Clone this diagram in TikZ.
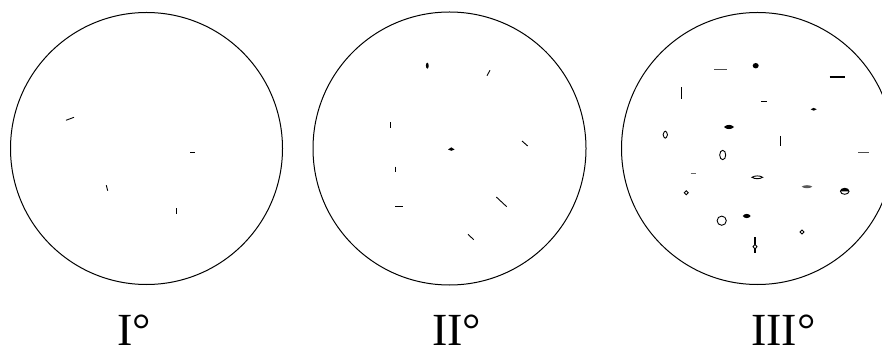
\documentclass[tikz,border=0pt]{standalone}
\usepackage{fontspec}
\setmainfont{Liberation Serif}
\begin{document}
\begin{tikzpicture}[x=1pt,y=-1pt,
  rim/.style={line width=1pt},
  tick/.style={line width=0.9pt},
  lbl/.style={font=\fontsize{46}{46}\selectfont, inner sep=0pt, text depth=0pt, anchor=base west},
  lensp/.pic={\path[pic actions] (-1,0) .. controls (-0.5,-1.33) and (0.5,-1.33) .. (1,0) .. controls (0.5,1.33) and (-0.5,1.33) .. (-1,0) -- cycle;},
  diap/.pic={\path[pic actions] (-1,0) -- (0,-1) -- (1,0) -- (0,1) -- cycle;}]
\useasboundingbox (0,0) rectangle (882,347);
\clip (0,0) rectangle (882,347);
% circles
\draw[rim] (146.5,148.5) circle[radius=136pt];
\draw[rim] (449.5,148.5) circle[radius=136.5pt];
\draw[rim] (757.5,148.5) circle[radius=136pt];
% circle I
\draw[tick] (66,120.3) -- (74,117.3);
\draw[tick] (190,152.7) -- (195.3,152.7);
\draw[tick] (106.3,185.3) -- (107.7,190.7);
\draw[tick] (176,208.3) -- (176,213.7);
% circle II
\fill (427.3,65.7) ellipse[x radius=1.4pt, y radius=3pt];
\draw[tick] (487,75.7) -- (490,70.3);
\draw[tick] (390.7,122.3) -- (390.7,127.7);
\fill (448,149.5) -- (451.3,147.3) -- (454.6,149.5) -- (451.3,150.8) -- cycle;
\draw[tick] (522,141) -- (527.7,146);
\draw[tick] (395,166.7) -- (395,172);
\draw[tick] (395,206.3) -- (402.7,206.3);
\draw[tick] (496.3,197) -- (506.7,206.7);
\draw[tick] (468,234.3) -- (473.7,239.7);
% circle III
\draw[tick, black!70] (714.3,69) -- (727,69);
\fill (755.7,65.7) ellipse[x radius=3pt, y radius=2.7pt];
\draw[line width=1.6pt] (829.7,77.3) -- (845,77.3);
\draw[line width=1.1pt] (681.7,87.3) -- (681.7,99);
\draw[tick] (761,101) -- (767,101);
\pic[fill, xscale=3, yscale=1.4] at (813.7,109.3) {diap};
\pic[fill, xscale=5, yscale=2.1] at (729,127) {lensp};
\pic[draw, tick, xscale=2.2, yscale=3.5] at (665.3,134.7) {lensp};
\draw[line width=1.1pt] (780.7,136) -- (780.7,145.7);
\draw[tick] (722.7,155) ellipse[x radius=3pt, y radius=4.7pt];
\draw[tick, black!70] (858,152.7) -- (869,152.7);
\draw[tick, black!60] (690.7,173.7) -- (696.3,173.7);
\pic[draw, tick, xscale=5.3, yscale=1.4] at (757.3,177.3) {lensp};
\pic[fill=black!65, xscale=5.3, yscale=1.5] at (807,186.7) {lensp};
\fill (840.4,191.3) arc[start angle=180, end angle=0, x radius=4.3pt, y radius=3pt] -- cycle;
\draw[tick] (844.7,191.3) ellipse[x radius=4.3pt, y radius=3pt];
\pic[draw, tick, xscale=2, yscale=2] at (686.3,192.7) {diap};
\draw[tick] (721.7,220.7) circle[radius=4.6pt];
\pic[fill, xscale=4, yscale=2.1] at (746.7,216) {lensp};
\pic[draw, tick, xscale=2, yscale=2] at (802,232) {diap};
\draw[line width=1.1pt] (755,237.3) -- (755,253.3);
\pic[draw, tick, fill=white, xscale=2, yscale=2.3] at (755,246.7) {diap};
% labels
\node[lbl] (l1) at (117,345) {I°};
\node[lbl] (l2) at (432,345) {II°};
\node[lbl] (l3) at (751,345) {III°};
\end{tikzpicture}
\end{document}
